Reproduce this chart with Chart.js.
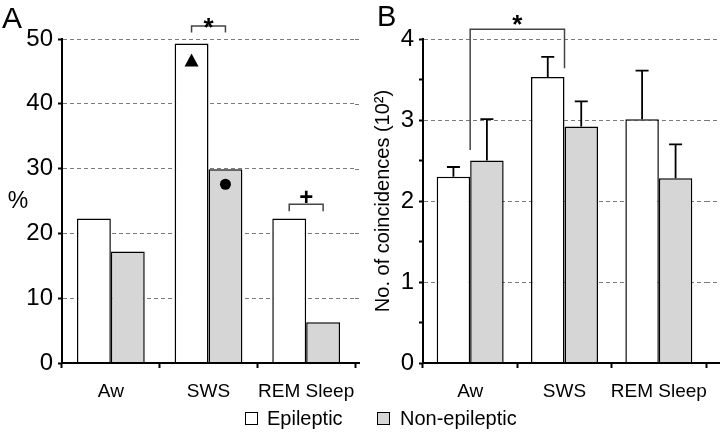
<!DOCTYPE html>
<html>
<head>
<meta charset="utf-8">
<script src="https://cdn.jsdelivr.net/npm/chart.js@4.4.1/dist/chart.umd.min.js"></script>
<style>
  html, body { margin: 0; padding: 0; background: #fff; }
  #wrap { position: relative; width: 720px; height: 432px; overflow: hidden;
          font-family: "Liberation Sans", Arial, Helvetica, sans-serif; }
  canvas { position: absolute; top: 0; }
  .lg { position: absolute; top: 408px; height: 20px; display: flex; align-items: center;
        font-size: 20px; line-height: 20px; color: #000; }
  .lg .box { display: inline-block; width: 11px; height: 11px; border: 1.5px solid #000;
             margin-right: 9px; }
</style>
</head>
<body>
<div id="wrap">
  <canvas id="chartA" width="360" height="432" style="left:0"></canvas>
  <canvas id="chartB" width="360" height="432" style="left:360px"></canvas>
  <div class="lg" style="left:245px"><span class="box" style="background:#fff"></span>Epileptic</div>
  <div class="lg" style="left:377px"><span class="box" style="background:#d6d6d6;margin-right:10px"></span>Non-epileptic</div>
</div>
<script>
// data
const categories = ["Aw", "SWS", "REM Sleep"];
const pctEpileptic = [22.3, 49.3, 22.3];
const pctNonEpileptic = [17.2, 29.9, 6.3];
const pctTicks = [0, 10, 20, 30, 40, 50];

const coincEpileptic = [2.30, 3.53, 3.01];
const coincEpilepticErr = [0.12, 0.25, 0.60];
const coincNonEpileptic = [2.50, 2.92, 2.28];
const coincNonEpilepticErr = [0.51, 0.31, 0.42];
const coincTicks = [0, 1, 2, 3, 4];

const FONT = '"Liberation Sans", Arial, Helvetica, sans-serif';
const GRAY = '#d6d6d6';
const GRID = '#7a7a7a';

function bracket(ctx, x1, x2, yTop, yLeft, yRight) {
  ctx.beginPath();
  ctx.moveTo(x1, yLeft);
  ctx.lineTo(x1, yTop);
  ctx.lineTo(x2, yTop);
  ctx.lineTo(x2, yRight);
  ctx.stroke();
}

// carry the dashed grid and the x axis on to the canvas edge, like the figure
function extendLines(chart, ticks) {
  const ctx = chart.ctx, y = chart.scales.y, right = chart.chartArea.right;
  ctx.save();
  ctx.strokeStyle = GRID;
  ctx.lineWidth = 1;
  ctx.setLineDash([4, 3]);
  ticks.forEach(v => {
    if (v === 0) return;
    const py = Math.round(y.getPixelForValue(v)) + 0.5;
    ctx.beginPath(); ctx.moveTo(right, py); ctx.lineTo(chart.width, py); ctx.stroke();
  });
  ctx.setLineDash([]);
  ctx.strokeStyle = '#000';
  ctx.lineWidth = 2;
  const p0 = y.getPixelForValue(0);
  ctx.beginPath(); ctx.moveTo(right - 1, p0); ctx.lineTo(chart.width, p0); ctx.stroke();
  ctx.restore();
}

function barDatasets(a, b) {
  return [
    { label: "Epileptic", data: a, backgroundColor: '#fff', borderColor: '#000', borderWidth: 1.5 },
    { label: "Non-epileptic", data: b, backgroundColor: GRAY, borderColor: '#000', borderWidth: 1.5 }
  ];
}

function baseOptions(max, step, yWidth, padRight, catPct) {
  return {
    responsive: false,
    animation: false,
    devicePixelRatio: 1,
    layout: { padding: { top: 39, right: padRight, left: 0, bottom: 0 } },
    datasets: { bar: { categoryPercentage: catPct, barPercentage: 1 } },
    plugins: { legend: { display: false }, tooltip: { enabled: false } },
    scales: {
      x: {
        grid: { offset: true, drawOnChartArea: false, tickLength: 5, tickColor: '#000', tickWidth: 2 },
        border: { color: '#000', width: 2, z: 1 },
        ticks: { color: '#000', font: { family: FONT, size: 19 }, padding: 12,
                 maxRotation: 0, minRotation: 0, autoSkip: false },
        afterFit(s) { s.height = 69; s.paddingLeft = 0; s.paddingRight = 0; }
      },
      y: {
        min: 0, max: max,
        grid: { color: GRID, lineWidth: 1, tickLength: 4, tickColor: '#000', tickWidth: 2 },
        border: { color: '#000', width: 2, dash: [4, 3], z: 1 },
        ticks: { stepSize: step, color: '#000', font: { family: FONT, size: 24 }, padding: 5 },
        afterFit(s) { s.width = yWidth; }
      }
    }
  };
}

// ---------- panel A ----------
const annotateA = {
  id: 'annotateA',
  afterDraw(chart) {
    const ctx = chart.ctx, y = chart.scales.y;
    const ep = chart.getDatasetMeta(0).data, non = chart.getDatasetMeta(1).data;
    extendLines(chart, pctTicks);
    ctx.save();
    ctx.fillStyle = '#000';
    ctx.font = '30px ' + FONT;
    ctx.textAlign = 'left';
    ctx.textBaseline = 'alphabetic';
    ctx.fillText('A', 2, 28);
    ctx.font = '23px ' + FONT;
    ctx.textAlign = 'center';
    ctx.fillText('%', 18, 208);

    // triangle and dot inside the SWS bars
    const t = ep[1];
    const ty = t.y + 17;
    ctx.beginPath();
    ctx.moveTo(t.x, ty - 7);
    ctx.lineTo(t.x + 7, ty + 6);
    ctx.lineTo(t.x - 7, ty + 6);
    ctx.closePath();
    ctx.fill();
    const c = non[1];
    ctx.beginPath();
    ctx.arc(c.x, c.y + 15, 5.5, 0, Math.PI * 2);
    ctx.fill();

    // significance brackets
    ctx.strokeStyle = '#444';
    ctx.lineWidth = 1.5;
    const sTop = y.getPixelForValue(52), sLeg = y.getPixelForValue(51);
    bracket(ctx, ep[1].x, non[1].x, sTop, sLeg, sLeg);
    const rTop = y.getPixelForValue(24.5), rLeg = y.getPixelForValue(23.4);
    bracket(ctx, ep[2].x, non[2].x, rTop, rLeg, rLeg);
    ctx.font = 'bold 26px ' + FONT;
    ctx.fillText('*', (ep[1].x + non[1].x) / 2, sTop + 10);
    ctx.font = 'bold 24px ' + FONT;
    ctx.fillText('+', (ep[2].x + non[2].x) / 2, rTop + 1);
    ctx.restore();
  }
};

const optsA = baseOptions(50, 10, 62, 5, 0.694);
new Chart(document.getElementById('chartA'), {
  type: 'bar',
  data: { labels: categories, datasets: barDatasets(pctEpileptic, pctNonEpileptic) },
  options: optsA,
  plugins: [annotateA]
});

// ---------- panel B ----------
const errorBarsB = {
  id: 'errorBarsB',
  afterDatasetsDraw(chart) {
    const ctx = chart.ctx, y = chart.scales.y;
    const sets = [[coincEpileptic, coincEpilepticErr], [coincNonEpileptic, coincNonEpilepticErr]];
    ctx.save();
    ctx.strokeStyle = '#000';
    ctx.lineWidth = 1.8;
    sets.forEach(([vals, errs], i) => {
      chart.getDatasetMeta(i).data.forEach((bar, j) => {
        const top = y.getPixelForValue(vals[j] + errs[j]);
        ctx.beginPath();
        ctx.moveTo(bar.x, bar.y);
        ctx.lineTo(bar.x, top);
        ctx.moveTo(bar.x - 6.5, top);
        ctx.lineTo(bar.x + 6.5, top);
        ctx.stroke();
      });
    });
    ctx.restore();
  },
  afterDraw(chart) {
    const ctx = chart.ctx, y = chart.scales.y;
    const ep = chart.getDatasetMeta(0).data, non = chart.getDatasetMeta(1).data;
    extendLines(chart, coincTicks);
    ctx.save();
    ctx.fillStyle = '#000';
    ctx.font = '29px ' + FONT;
    ctx.textAlign = 'left';
    ctx.fillText('B', 17, 26);
    ctx.strokeStyle = '#444';
    ctx.lineWidth = 1.5;
    const xL = (ep[0].x + non[0].x) / 2, xR = (ep[1].x + non[1].x) / 2;
    const yTop = y.getPixelForValue(4.12);
    bracket(ctx, xL, xR, yTop, y.getPixelForValue(2.63), y.getPixelForValue(3.64));
    ctx.font = 'bold 26px ' + FONT;
    ctx.textAlign = 'center';
    ctx.fillText('*', (xL + xR) / 2, yTop + 4);
    ctx.restore();
  }
};

const optsB = baseOptions(4, 0.5, 63, 14, 0.71);
optsB.scales.y.grid.color = (c) => (c.tick && c.tick.value % 1 === 0) ? GRID : 'rgba(0,0,0,0)';
optsB.scales.y.ticks.callback = (v) => (v % 1 === 0 ? v : '');
optsB.scales.y.title = {
  display: true,
  text: 'No. of coincidences (10²)',
  color: '#000',
  font: { family: FONT, size: 20 },
  padding: { top: 11, bottom: 0 }
};
new Chart(document.getElementById('chartB'), {
  type: 'bar',
  data: { labels: categories, datasets: barDatasets(coincEpileptic, coincNonEpileptic) },
  options: optsB,
  plugins: [errorBarsB]
});
</script>
</body>
</html>
